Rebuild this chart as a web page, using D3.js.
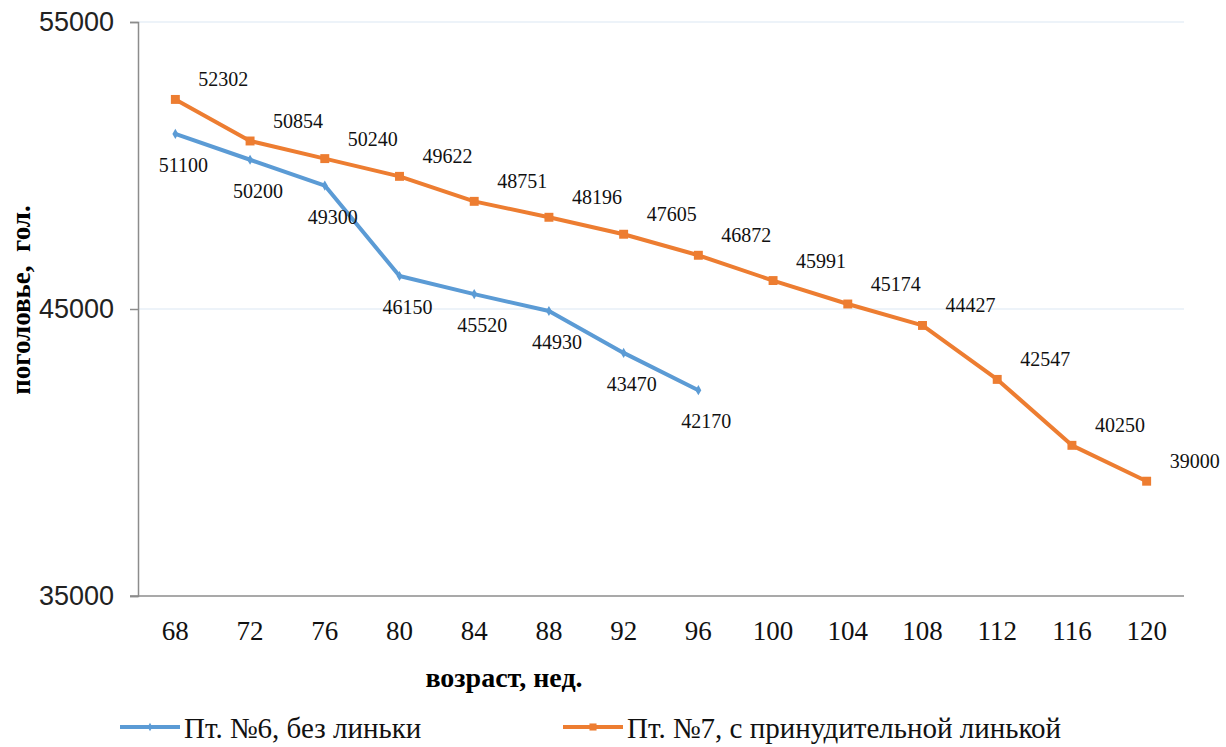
<!DOCTYPE html>
<html>
<head>
<meta charset="utf-8">
<script src="https://cdn.jsdelivr.net/npm/d3@7"></script>
<style>
  body { margin: 0; background: #fff; }
  svg { display: block; }
</style>
</head>
<body>
<svg></svg>
<script>
var weeks = [68, 72, 76, 80, 84, 88, 92, 96, 100, 104, 108, 112, 116, 120];
var noMolt = [51100, 50200, 49300, 46150, 45520, 44930, 43470, 42170];
var forcedMolt = [52302, 50854, 50240, 49622, 48751, 48196, 47605, 46872, 45991, 45174, 44427, 42547, 40250, 39000];
var yTicks = [35000, 45000, 55000];
var seriesNames = ['Пт. №6, без линьки', 'Пт. №7, с принудительной линькой'];

var width = 1226, height = 747;
var svg = d3.select('svg').attr('width', width).attr('height', height);

var margin = { top: 22, right: 42, bottom: 151, left: 138 };

var x = d3.scaleBand().domain(weeks).range([margin.left, width - margin.right]);
var y = d3.scaleLinear().domain([35000, 55000]).range([height - margin.bottom, margin.top]);

var serif = '"Liberation Serif", "Times New Roman", serif';

// gridlines
svg.append('g').selectAll('line').data(yTicks.slice(1))
  .enter().append('line')
    .attr('x1', margin.left).attr('x2', width - margin.right)
    .attr('y1', d => y(d)).attr('y2', d => y(d))
    .attr('stroke', '#dce8f4').attr('stroke-width', 1.2);

// y axis
var yAxis = svg.append('g')
  .attr('transform', `translate(${margin.left},0)`)
  .call(d3.axisLeft(y).tickValues(yTicks).tickSize(8).tickFormat(d3.format('d')));
yAxis.select('.domain').attr('stroke', '#8c8c8c').attr('stroke-width', 1.5);
yAxis.selectAll('.tick line').attr('stroke', '#8c8c8c').attr('stroke-width', 1.5);
yAxis.selectAll('text')
  .attr('x', -24)
  .attr('font-family', '"Liberation Sans", Arial, sans-serif')
  .attr('font-size', 27).attr('fill', '#222');

// x axis
var xAxis = svg.append('g')
  .attr('transform', `translate(0,${y(35000)})`)
  .call(d3.axisBottom(x).tickSize(0).tickPadding(25));
xAxis.select('.domain').attr('stroke', '#8c8c8c').attr('stroke-width', 1.5)
  .attr('d', `M${margin.left - 8},0H${width - margin.right}`);
xAxis.selectAll('text')
  .attr('font-family', serif).attr('font-size', 27).attr('fill', '#111');

// axis titles
svg.append('text')
  .attr('x', 504).attr('y', 687)
  .attr('text-anchor', 'middle')
  .attr('font-family', serif).attr('font-weight', 'bold').attr('font-size', 28)
  .text('возраст, нед.');

svg.append('text')
  .attr('transform', 'translate(30,300) rotate(-90)')
  .attr('text-anchor', 'middle')
  .attr('font-family', serif).attr('font-weight', 'bold').attr('font-size', 27)
  .style('white-space', 'pre')
  .text('поголовье,  гол.');

var cx = d => x(d) + x.bandwidth() / 2;
var line = d3.line().x((d, i) => cx(weeks[i])).y(d => y(d));

var series = [
  { name: seriesNames[0], values: noMolt, color: '#5b9bd5', dx: 8, dy: 38, marker: 'diamond' },
  { name: seriesNames[1], values: forcedMolt, color: '#ed7d31', dx: 48, dy: -13, marker: 'square' }
];

series.forEach(s => {
  var g = svg.append('g');
  g.append('path')
    .datum(s.values)
    .attr('d', line)
    .attr('fill', 'none')
    .attr('stroke', s.color)
    .attr('stroke-width', 4)
    .attr('stroke-linejoin', 'round');

  var sym = s.marker === 'square'
    ? d3.symbol().type(d3.symbolSquare).size(80)
    : d3.symbol().type(d3.symbolDiamond).size(30);
  g.selectAll('path.m').data(s.values)
    .enter().append('path')
      .attr('class', 'm')
      .attr('transform', (d, i) => `translate(${cx(weeks[i])},${y(d)})`)
      .attr('d', sym)
      .attr('fill', s.color);

  g.selectAll('text').data(s.values)
    .enter().append('text')
      .attr('x', (d, i) => cx(weeks[i]) + s.dx)
      .attr('y', d => y(d) + s.dy)
      .attr('text-anchor', 'middle')
      .attr('font-family', serif).attr('font-size', 20).attr('fill', '#111')
      .text(d => d);
});

// legend
var legend = svg.append('g');
var legendPos = [120, 563];
series.forEach((s, i) => {
  var lg = legend.append('g').attr('transform', `translate(${legendPos[i]},727)`);
  lg.append('line').attr('x1', 0).attr('x2', 60)
    .attr('stroke', s.color).attr('stroke-width', 4);
  var sym = s.marker === 'square'
    ? d3.symbol().type(d3.symbolSquare).size(50)
    : d3.symbol().type(d3.symbolDiamond).size(20);
  lg.append('path').attr('transform', 'translate(30,0)').attr('d', sym).attr('fill', s.color);
  lg.append('text').attr('x', 64).attr('y', 11)
    .attr('font-family', serif).attr('font-size', 29).attr('fill', '#111')
    .text(s.name);
});
</script>
</body>
</html>
